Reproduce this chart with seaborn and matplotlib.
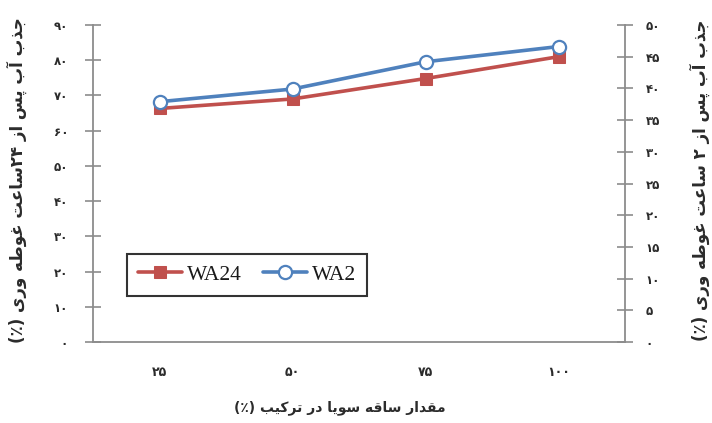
import numpy as np
import pandas as pd
import matplotlib
matplotlib.use("Agg")
import matplotlib.pyplot as plt
import seaborn as sns

# ---------------- data ----------------
categories = ["۲۵", "۵۰", "۷۵", "۱۰۰"]
wa24 = [66.3, 69.0, 74.8, 81.0]      # left axis (0-90)
wa2 = [37.9, 39.9, 44.2, 46.6]       # right axis (0-50)
left_ticks = [0, 10, 20, 30, 40, 50, 60, 70, 80, 90]
right_ticks = [0, 5, 10, 15, 20, 25, 30, 35, 40, 45, 50]
series_names = ["WA24", "WA2"]
xlabel_txt = "مقدار ساقه سویا در ترکیب (٪)"
ylabel_left_txt = "جذب آب پس از ۲۴ساعت غوطه وری (٪)"
ylabel_right_txt = "جذب آب پس از ۲ ساعت غوطه وری (٪)"

# ---------------- simple Persian shaping ----------------
FORMS = {
    'ا': ('\uFE8D', '\uFE8E', None, None),
    'آ': ('\uFE81', '\uFE82', None, None),
    'ب': ('\uFE8F', '\uFE90', '\uFE91', '\uFE92'),
    'پ': ('\uFB56', '\uFB57', '\uFB58', '\uFB59'),
    'ت': ('\uFE95', '\uFE96', '\uFE97', '\uFE98'),
    'ج': ('\uFE9D', '\uFE9E', '\uFE9F', '\uFEA0'),
    'د': ('\uFEA9', '\uFEAA', None, None),
    'ذ': ('\uFEAB', '\uFEAC', None, None),
    'ر': ('\uFEAD', '\uFEAE', None, None),
    'ز': ('\uFEAF', '\uFEB0', None, None),
    'س': ('\uFEB1', '\uFEB2', '\uFEB3', '\uFEB4'),
    'ط': ('\uFEC1', '\uFEC2', '\uFEC3', '\uFEC4'),
    'ع': ('\uFEC9', '\uFECA', '\uFECB', '\uFECC'),
    'غ': ('\uFECD', '\uFECE', '\uFECF', '\uFED0'),
    'ق': ('\uFED5', '\uFED6', '\uFED7', '\uFED8'),
    'ک': ('\uFB8E', '\uFB8F', '\uFB90', '\uFB91'),
    'م': ('\uFEE1', '\uFEE2', '\uFEE3', '\uFEE4'),
    'ه': ('\uFEE9', '\uFEEA', '\uFEEB', '\uFEEC'),
    'و': ('\uFEED', '\uFEEE', None, None),
    'ی': ('\uFBFC', '\uFBFD', '\uFBFE', '\uFBFF'),
}
DIGITS = set("۰۱۲۳۴۵۶۷۸۹0123456789")
MIRROR = {'(': ')', ')': '('}


def fa(text):
    chars = list(text)
    out = []
    n = len(chars)
    for i, c in enumerate(chars):
        if c not in FORMS:
            out.append(MIRROR.get(c, c))
            continue
        dual = FORMS[c][2] is not None
        cp = i > 0 and chars[i - 1] in FORMS and FORMS[chars[i - 1]][2] is not None
        cn = dual and i < n - 1 and chars[i + 1] in FORMS
        iso, fin, ini, med = FORMS[c]
        if cp and cn:
            out.append(med)
        elif cp:
            out.append(fin)
        elif cn:
            out.append(ini)
        else:
            out.append(iso)
    # visual order: reverse, keeping digit runs LTR
    runs = []
    for ch in out:
        isd = ch in DIGITS
        if runs and runs[-1][0] == isd:
            runs[-1][1].append(ch)
        else:
            runs.append([isd, [ch]])
    res = ""
    for isd, rch in reversed(runs):
        res += "".join(rch) if isd else "".join(reversed(rch))
    return res


def fa_num(v):
    return "".join("۰۱۲۳۴۵۶۷۸۹"[int(d)] for d in str(v))


# ---------------- figure ----------------
sns.set_style("white")
plt.rcParams["font.family"] = ["DejaVu Sans"]

fig = plt.figure(figsize=(7.12, 4.23), dpi=100)
ax = fig.add_axes([93 / 712, 1 - 342 / 423, (625 - 93) / 712, (342 - 25) / 423])
ax2 = ax.twinx()

red = "#C0504D"
blue = "#4F81BD"
axis_gray = "#8C8C8C"
text_col = "#2b2b2b"

xpos = np.arange(len(categories))
df24 = pd.DataFrame({"x": xpos, "y": wa24})
df2 = pd.DataFrame({"x": xpos, "y": wa2})

sns.lineplot(data=df24, x="x", y="y", ax=ax, color=red, linewidth=2.6,
             marker="s", markersize=8.5, markeredgecolor=red, markerfacecolor=red,
             label=series_names[0], sort=False, legend=False)
sns.lineplot(data=df2, x="x", y="y", ax=ax2, color=blue, linewidth=2.6,
             marker="o", markersize=9.5, markeredgecolor=blue, markerfacecolor="white",
             markeredgewidth=1.6, label=series_names[1], sort=False, legend=False)

ax.set_xlim(-0.5, len(categories) - 0.5)
ax.set_ylim(0, 90)
ax2.set_ylim(0, 50)

# x ticks: boundaries as major, labels at category centers (minor)
ax.set_xticks(np.arange(-0.5, len(categories), 1.0))
ax.set_xticklabels([])
ax.set_xticks(xpos, minor=True)
ax.set_xticklabels(categories, minor=True, fontsize=9, fontweight="bold", color=text_col)
ax.tick_params(axis="x", which="major", direction="inout", length=11, width=1.2, color=axis_gray)
ax.tick_params(axis="x", which="minor", length=0, pad=17)

ax.set_yticks(left_ticks)
ax.set_yticklabels([fa_num(v) for v in left_ticks],
                   fontsize=8.5, fontweight="bold", color=text_col)
ax.tick_params(axis="y", direction="inout", length=12, width=1.2, color=axis_gray, pad=12)

ax2.set_yticks(right_ticks)
ax2.set_yticklabels([fa_num(v) for v in right_ticks],
                    fontsize=8.5, fontweight="bold", color=text_col)
ax2.tick_params(axis="y", direction="inout", length=12, width=1.2, color=axis_gray, pad=9)

for a in (ax, ax2):
    a.set_xlabel("")
    a.set_ylabel("")
    a.grid(False)
    a.spines["top"].set_visible(False)
    for s in ("left", "right", "bottom"):
        a.spines[s].set_color(axis_gray)
        a.spines[s].set_linewidth(1.3)
ax.spines["right"].set_visible(False)
ax2.spines["left"].set_visible(False)
ax2.spines["bottom"].set_visible(False)

fig.text(340 / 712, 1 - 408 / 423, fa(xlabel_txt), ha="center", va="center",
         fontsize=10, fontweight="bold", color=text_col)
fig.text(17 / 712, 1 - 180 / 423, fa(ylabel_left_txt), ha="center", va="center",
         rotation=90, fontsize=12, fontweight="bold", color=text_col)
fig.text(700 / 712, 1 - 180 / 423, fa(ylabel_right_txt), ha="center", va="center",
         rotation=90, fontsize=12, fontweight="bold", color=text_col)

h1, l1 = ax.get_legend_handles_labels()
h2, l2 = ax2.get_legend_handles_labels()
leg = ax2.legend(h1 + h2, l1 + l2, loc="upper center",
                 bbox_to_anchor=(247 / 712, 1 - 254 / 423), bbox_transform=fig.transFigure,
                 ncol=2, frameon=True, fancybox=False, borderaxespad=0,
                 prop={"family": "Liberation Serif", "size": 15.5},
                 handlelength=2.05, handletextpad=0.25, columnspacing=0.95, borderpad=0.5)
leg.get_frame().set_edgecolor("black")
leg.get_frame().set_linewidth(1.5)
for t in leg.get_texts():
    t.set_color("#1a1a1a")

fig.savefig("out.png", dpi=100)
